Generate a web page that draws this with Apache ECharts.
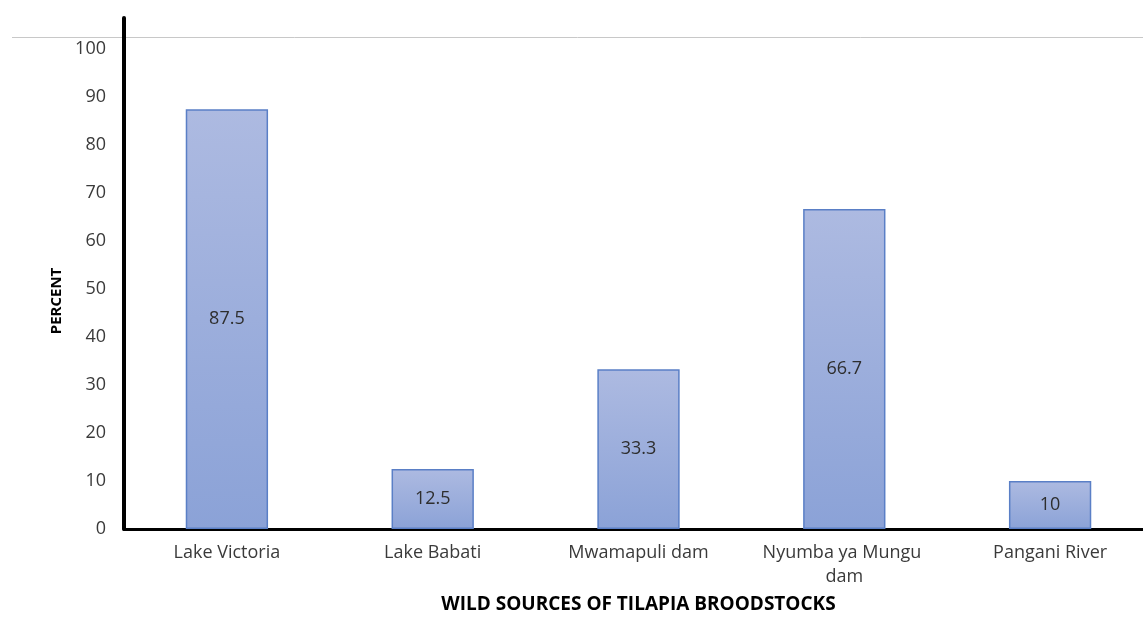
<!DOCTYPE html>
<html>
<head>
<meta charset="utf-8">
<script src="https://cdn.jsdelivr.net/npm/echarts@6/dist/echarts.min.js"></script>
<style>
  html, body { margin: 0; padding: 0; background: #ffffff; }
  #chart { width: 1143px; height: 622px; }
</style>
</head>
<body>
<div id="chart"></div>
<script>
// Wild sources of tilapia broodstocks (percent of farms)
const categories = ['Lake Victoria', 'Lake Babati', 'Mwamapuli dam', 'Nyumba ya Mungu dam', 'Pangani River'];
const percentValues = [87.5, 12.5, 33.3, 66.7, 10];
const yTicks = [0, 10, 20, 30, 40, 50, 60, 70, 80, 90, 100];

const font = 'Open Sans';
const chart = echarts.init(document.getElementById('chart'));

chart.setOption({
  backgroundColor: '#ffffff',
  animation: false,
  // plot area runs a little past the right edge of the canvas
  grid: { left: 124, width: 1029, top: 18, height: 511, containLabel: false, outerBoundsMode: 'none' },
  graphic: [
    {
      type: 'line',
      shape: { x1: 12, y1: 37.5, x2: 1143, y2: 37.5 },
      style: { stroke: '#c8c8c8', lineWidth: 1 },
      z: 0
    },
    {
      type: 'text',
      x: 57, y: 301,
      rotation: Math.PI / 2,
      style: {
        text: 'PERCENT',
        font: 'bold 15px "Open Sans"',
        fill: '#000000',
        align: 'center',
        verticalAlign: 'middle'
      }
    }
  ],
  xAxis: {
    type: 'category',
    data: categories,
    name: 'WILD SOURCES OF TILAPIA BROODSTOCKS',
    nameLocation: 'middle',
    nameGap: 66,
    nameTextStyle: { fontFamily: font, fontWeight: 'bold', fontSize: 19, color: '#000000' },
    axisLine: { show: true, lineStyle: { color: '#000000', width: 3 } },
    axisTick: { show: false },
    axisLabel: {
      interval: 0,
      fontFamily: font, fontSize: 18, color: '#3a3a3a', margin: 12,
      width: 180, overflow: 'break', lineHeight: 24
    },
    splitLine: { show: false }
  },
  yAxis: {
    type: 'value',
    min: 0,
    max: 106.5,
    interval: 10,
    axisLine: { show: true, lineStyle: { color: '#000000', width: 4 } },
    axisTick: { show: false },
    splitLine: { show: false },
    axisLabel: {
      fontFamily: font, fontSize: 18, color: '#3a3a3a', margin: 18,
      formatter: v => (yTicks.indexOf(v) >= 0 ? String(v) : '')
    }
  },
  series: [{
    type: 'bar',
    data: percentValues,
    barWidth: '40%',
    itemStyle: {
      color: new echarts.graphic.LinearGradient(0, 0, 0, 1, [
        { offset: 0, color: '#adbae1' },
        { offset: 1, color: '#8ba2d7' }
      ]),
      borderColor: '#5a7fc6',
      borderWidth: 1.5
    },
    label: {
      show: true,
      position: 'inside',
      fontFamily: font,
      fontSize: 18,
      color: '#2e2e2e',
      formatter: p => String(p.value)
    },
    z: 2
  }]
});
</script>
</body>
</html>
